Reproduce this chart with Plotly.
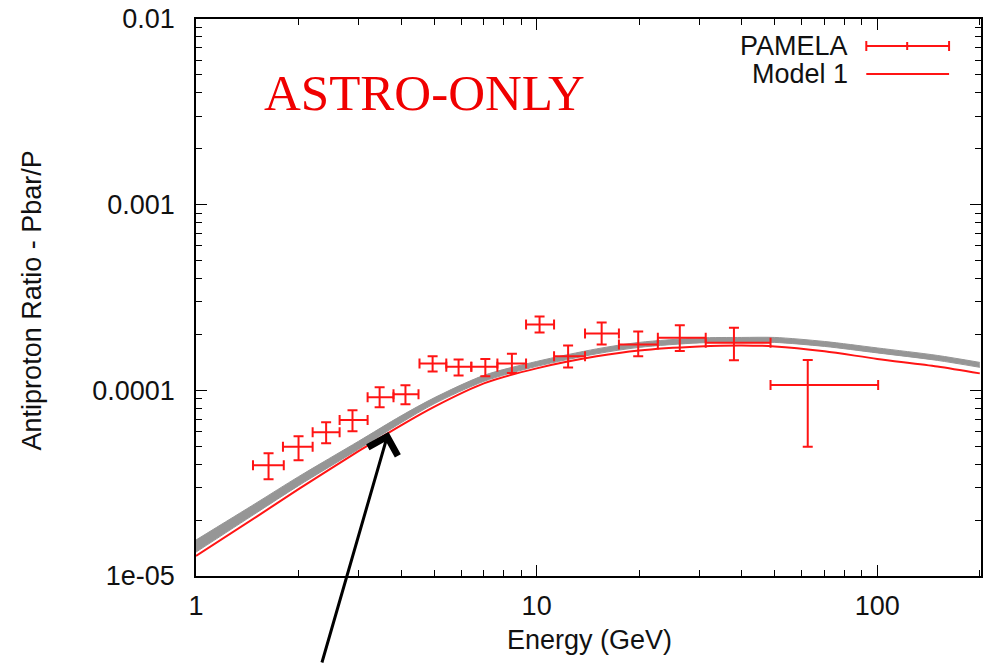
import plotly.graph_objects as go

# PAMELA antiproton / proton flux ratio
energy = [1.633, 2.00, 2.41, 2.88, 3.46, 4.12, 4.95, 5.90, 7.07, 8.46,
          10.2, 12.37, 15.52, 19.87, 26.32, 37.95, 62.5]
e_lo = [1.47, 1.80, 2.20, 2.64, 3.19, 3.80, 4.53, 5.43, 6.43, 7.67,
        9.31, 11.25, 13.87, 17.44, 22.69, 31.36, 48.6]
e_hi = [1.81, 2.20, 2.64, 3.19, 3.80, 4.50, 5.43, 6.43, 7.67, 9.31,
        11.25, 13.87, 17.44, 22.69, 31.36, 48.6, 100.6]
ratio = [3.95e-5, 4.96e-5, 5.94e-5, 6.92e-5, 9.17e-5, 9.52e-5, 1.396e-4, 1.341e-4,
         1.341e-4, 1.396e-4, 2.264e-4, 1.524e-4, 2.025e-4, 1.768e-4, 1.920e-4,
         1.805e-4, 1.068e-4]
ratio_up = [0.63e-5, 0.70e-5, 0.79e-5, 0.89e-5, 1.21e-5, 1.12e-5, 1.28e-5, 1.25e-5,
            1.35e-5, 1.80e-5, 2.36e-5, 2.22e-5, 2.95e-5, 3.08e-5, 3.24e-5, 3.68e-5, 3.87e-5]
ratio_dn = [0.63e-5, 0.76e-5, 0.75e-5, 0.90e-5, 1.07e-5, 1.11e-5, 1.31e-5, 1.40e-5,
            1.50e-5, 1.55e-5, 2.14e-5, 1.95e-5, 2.57e-5, 2.44e-5, 2.93e-5, 3.55e-5, 5.72e-5]

# Astrophysical secondary-production models
model_e = [1, 1.5, 2, 3, 4, 5, 7, 10, 15, 20, 30, 40, 50, 70, 100, 150, 200]
model1 = [1.281e-5, 2.076e-5, 2.935e-5, 4.70e-5, 6.48e-5, 8.15e-5, 1.090e-4, 1.313e-4,
          1.524e-4, 1.641e-4, 1.724e-4, 1.746e-4, 1.724e-4, 1.622e-4, 1.477e-4,
          1.345e-4, 1.234e-4]
band_lo = [1.345e-5, 2.181e-5, 3.066e-5, 4.816e-5, 6.685e-5, 8.46e-5, 1.118e-4, 1.346e-4,
           1.573e-4, 1.704e-4, 1.801e-4, 1.812e-4, 1.812e-4, 1.724e-4, 1.591e-4,
           1.450e-4, 1.330e-4]
band_hi = [1.563e-5, 2.468e-5, 3.428e-5, 5.317e-5, 7.289e-5, 9.11e-5, 1.204e-4, 1.431e-4,
           1.672e-4, 1.812e-4, 1.915e-4, 1.927e-4, 1.927e-4, 1.833e-4, 1.692e-4,
           1.542e-4, 1.414e-4]

x_ticks = [1, 10, 100]
x_ticktext = ["1", "10", "100"]
x_minor = [2, 3, 4, 5, 6, 7, 8, 9, 20, 30, 40, 50, 60, 70, 80, 90, 200]
y_ticks = [1e-5, 1e-4, 1e-3, 1e-2]
y_ticktext = ["1e-05", "0.0001", "0.001", "0.01"]
y_minor = [m * 10.0 ** k for k in (-5, -4, -3) for m in range(2, 10)]

RED = "rgb(255,20,20)"
GRAY = "rgb(150,150,150)"
FONT = "Liberation Sans"
TEXT = "#111"

fig = go.Figure()

fig.add_trace(go.Scatter(x=model_e, y=band_lo, mode="lines",
                         line=dict(color=GRAY, width=1, shape="spline", smoothing=0.8),
                         showlegend=False, hoverinfo="skip"))
fig.add_trace(go.Scatter(x=model_e, y=band_hi, mode="lines",
                         line=dict(color=GRAY, width=1, shape="spline", smoothing=0.8),
                         fill="tonexty", fillcolor=GRAY, showlegend=False, hoverinfo="skip"))
fig.add_trace(go.Scatter(x=model_e, y=model1, mode="lines",
                         line=dict(color=RED, width=2, shape="spline", smoothing=0.8),
                         name="Model 1", showlegend=False))

err_x_plus = [h - e for h, e in zip(e_hi, energy)]
err_x_minus = [e - l for l, e in zip(e_lo, energy)]
fig.add_trace(go.Scatter(
    x=energy, y=ratio, mode="markers", name="PAMELA", showlegend=False,
    marker=dict(size=1, color="rgba(0,0,0,0)"),
    error_x=dict(type="data", symmetric=False, array=err_x_plus, arrayminus=err_x_minus,
                 color=RED, thickness=2, width=5),
    error_y=dict(type="data", symmetric=False, array=ratio_up, arrayminus=ratio_dn,
                 color=RED, thickness=2, width=5),
))

W, H = 983, 664
L, R, T, B = 196, 0, 19, 88
pw, ph = W - L - R, H - T - B


def px(xp):
    return (xp - L) / pw


def py(yp):
    return (H - B - yp) / ph


axis_common = dict(
    showline=True, linecolor="black", linewidth=1.5, mirror="allticks",
    ticks="inside", tickcolor="black", tickwidth=1.2, ticklen=11,
    showgrid=False, zeroline=False,
    tickfont=dict(family=FONT, size=27, color=TEXT),
)

fig.update_xaxes(type="log", range=[0, 2.3045], tickvals=x_ticks, ticktext=x_ticktext,
                 minor=dict(tickvals=x_minor, ticks="inside", ticklen=6, tickcolor="black", tickwidth=1),
                 ticklabelstandoff=5, **axis_common)
fig.update_yaxes(type="log", range=[-5, -2], tickvals=y_ticks, ticktext=y_ticktext,
                 minor=dict(tickvals=y_minor, ticks="inside", ticklen=6, tickcolor="black", tickwidth=1),
                 ticklabelstandoff=14, **axis_common)


def label(text, x, y, size, xanchor="center", angle=0, family=FONT, color=TEXT):
    return dict(text=text, x=px(x), y=py(y), xref="paper", yref="paper",
                xanchor=xanchor, yanchor="middle", textangle=angle, showarrow=False,
                font=dict(family=family, size=size, color=color))


annotations = [
    label("Energy (GeV)", 591, 640, 27),
    label("Antiproton Ratio - Pbar/P", 32, 300, 27, angle=-90),
    label("ASTRO-ONLY", 425, 93, 51, family="Liberation Serif", color="rgb(240,0,0)"),
    label("PAMELA", 852, 46, 27, xanchor="right"),
    label("Model 1", 852, 74, 27, xanchor="right"),
    dict(text="", x=px(389), y=py(432), xref="paper", yref="paper",
         showarrow=True, ax=-67, ay=240, arrowhead=4, arrowsize=2, arrowwidth=3,
         arrowcolor="black"),
]


def seg(x0, y0, x1, y1, width=2):
    return dict(type="line", xref="paper", yref="paper",
                x0=px(x0), x1=px(x1), y0=py(y0), y1=py(y1),
                line=dict(color=RED, width=width))


shapes = [
    # legend sample: error-bar cross
    seg(868, 46, 951, 46),
    seg(868, 41, 868, 51),
    seg(951, 41, 951, 51),
    seg(909, 42, 909, 50),
    # legend sample: model line
    seg(868, 74, 951, 74),
]

fig.update_layout(
    width=W, height=H,
    margin=dict(l=L, r=R, t=T, b=B),
    paper_bgcolor="white", plot_bgcolor="white",
    showlegend=False,
    annotations=annotations, shapes=shapes,
)

fig.write_html("out.html")
